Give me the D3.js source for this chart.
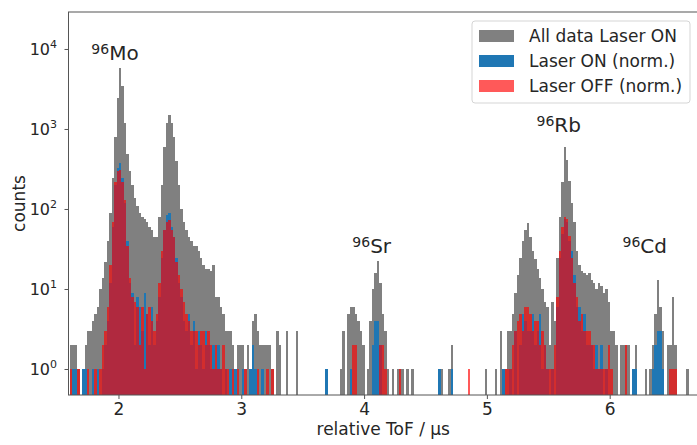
<!DOCTYPE html>
<html>
<head>
<meta charset="utf-8">
<title>ToF spectrum</title>
<script src="https://d3js.org/d3.v7.min.js"></script>
<style>
body { margin: 0; background: #fff; }
text { font-family: "DejaVu Sans", sans-serif; fill: #262626; }
</style>
</head>
<body>
<div id="chart"></div>
<script>
// histogram bins (relative ToF in us)
var binStart = 1.60;
var binWidth = 0.02;

// counts per bin
var allOn = [
  2,2,2,1,0,1,2,3,3,4,5,6,10,14,22,40,
  90,250,800,2500,5900,3500,1200,500,300,200,140,110,90,80,75,70,
  60,55,45,45,80,200,600,1200,1500,1200,800,400,200,100,70,55,
  45,40,35,35,30,25,20,18,18,17,20,8,8,6,5,3,
  3,3,2,1,2,2,2,1,2,1,4,5,3,2,2,2,
  2,2,1,0,3,2,0,0,3,0,0,0,3,0,0,0,
  0,0,0,0,0,0,0,0,1,0,0,0,0,0,1,3,
  0,5,6,6,5,4,3,2,0,1,4,10,16,23,12,5,
  3,1,0,1,0,1,1,1,0,1,0,1,0,0,0,0,
  0,0,0,0,0,0,1,1,0,0,1,2,0,0,0,0,
  0,0,0,0,0,0,0,0,0,1,0,0,0,1,0,3,
  1,1,3,3,5,9,15,25,40,55,68,45,30,24,18,14,
  10,7,6,2,7,4,25,80,220,600,420,230,120,70,30,20,
  17,16,15,16,13,12,10,12,11,9,10,7,3,3,2,0,
  2,2,2,2,0,1,2,0,0,0,1,0,1,2,5,13,
  6,3,0,2,2,8,2,0,0,0,0,1,0,0,0,0
];
var laserOn = [
  0,1,1,0,0,1,1,0,0,1,0,1,0,1,2,4,
  12,60,200,330,380,250,120,40,12,9,2,8,6,3,9,5,
  2,6,2,4,8,25,55,85,90,60,45,25,12,8,4,3,
  5,2,4,1,3,2,1,3,2,1,2,1,2,1,0,1,
  0,1,0,1,0,0,1,0,0,1,2,1,0,0,1,0,
  0,0,0,0,0,0,0,0,0,0,0,0,0,0,0,0,
  0,0,0,0,0,0,0,0,1,0,0,0,0,0,0,0,
  0,0,1,0,0,0,0,0,0,0,0,2,4,4,2,0,
  0,0,0,0,0,0,0,0,0,0,0,0,0,0,0,0,
  0,0,0,0,0,0,1,0,0,0,0,1,0,0,0,0,
  0,0,0,0,0,0,0,0,0,0,0,0,0,0,0,0,
  1,0,0,1,0,3,0,2,5,4,3,3,5,2,3,5,
  1,2,1,0,1,0,6,25,50,75,70,40,30,15,6,6,
  3,5,2,2,2,1,2,1,2,0,1,0,0,0,0,0,
  0,0,0,0,0,1,1,0,0,0,0,0,0,1,2,3,
  3,1,0,0,0,0,0,0,0,0,0,0,0,0,0,0
];
var laserOff = [
  1,0,0,1,0,0,0,1,0,0,1,0,1,2,3,6,
  20,70,220,300,310,220,130,35,14,8,7,6,2,6,1,5,
  6,4,3,5,12,30,55,70,73,55,45,22,15,10,7,5,
  4,3,3,3,2,3,3,2,3,2,1,2,1,1,2,1,
  1,0,1,0,1,0,0,1,0,0,0,0,1,0,0,0,
  1,0,1,0,0,0,0,0,0,0,0,0,0,0,0,0,
  0,0,0,0,0,0,0,0,0,0,0,0,0,0,0,0,
  0,0,0,2,2,0,0,0,0,0,0,0,0,0,2,2,
  1,0,0,0,0,0,1,0,0,0,0,0,0,0,0,0,
  0,0,0,0,0,0,0,0,0,0,0,0,0,0,0,0,
  0,0,1,0,0,0,0,0,0,0,0,0,0,0,0,0,
  0,1,1,1,2,3,4,5,3,6,6,5,3,4,4,2,
  3,2,1,1,1,2,8,30,60,80,75,47,25,12,8,4,
  5,3,3,3,2,2,1,1,1,1,1,2,1,0,0,0,
  0,0,2,0,0,0,0,0,0,0,0,0,0,0,0,0,
  0,0,0,0,1,1,1,0,0,0,0,0,0,0,0,0
];

var seriesNames = ["All data Laser ON", "Laser ON (norm.)", "Laser OFF (norm.)"];
var seriesColors = ["#808080", "#1f77b4", "#ff0000"];
var seriesOpacity = [1, 1, 0.65];

var xTicks = [2, 3, 4, 5, 6];
var yTicks = [1, 10, 100, 1000, 10000];

// isotope annotations in data coordinates
var isoMass = ["96", "96", "96", "96"];
var isoName = ["Mo", "Sr", "Rb", "Cd"];
var isoT = [1.775, 3.9, 5.4, 6.1];
var isoCount = [7400, 28.6, 930, 28.6];

var width = 697, height = 445;
var margin = {left: 68.5, top: 12, right: 698, bottom: 395};

var svg = d3.select("#chart").append("svg")
  .attr("width", width).attr("height", height);

var x = d3.scaleLinear().domain([1.589, 6.715]).range([margin.left, margin.right]);
var y = d3.scaleLog().domain([0.48, 29400]).range([margin.bottom, margin.top]);

svg.append("clipPath").attr("id", "plotclip").append("rect")
  .attr("x", margin.left).attr("y", margin.top)
  .attr("width", margin.right - margin.left).attr("height", margin.bottom - margin.top);

var plot = svg.append("g").attr("clip-path", "url(#plotclip)");

[allOn, laserOn, laserOff].forEach(function(counts, i) {
  var bins = counts.map(function(c, k) { return {k: k, c: c}; })
    .filter(function(d) { return d.c > 0; });
  plot.append("g")
    .attr("fill", seriesColors[i])
    .attr("fill-opacity", seriesOpacity[i])
    .attr("shape-rendering", "crispEdges")
    .selectAll("rect").data(bins).enter().append("rect")
    .attr("x", function(d) { return x(binStart + d.k * binWidth); })
    .attr("width", function(d) { return x(binStart + (d.k + 1) * binWidth) - x(binStart + d.k * binWidth); })
    .attr("y", function(d) { return y(d.c); })
    .attr("height", function(d) { return margin.bottom - y(d.c); });
});

// spines
svg.append("rect")
  .attr("x", margin.left).attr("y", margin.top)
  .attr("width", margin.right - margin.left).attr("height", margin.bottom - margin.top)
  .attr("fill", "none").attr("stroke", "#555").attr("stroke-width", 1);

// x axis
var xAxis = svg.append("g");
xTicks.forEach(function(t) {
  xAxis.append("line").attr("x1", x(t)).attr("x2", x(t))
    .attr("y1", margin.bottom).attr("y2", margin.bottom + 4).attr("stroke", "#555");
  xAxis.append("text").attr("x", x(t)).attr("y", 415)
    .attr("text-anchor", "middle").attr("font-size", 17).text(t);
});
svg.append("text").attr("x", (margin.left + margin.right) / 2).attr("y", 435)
  .attr("text-anchor", "middle").attr("font-size", 17).text("relative ToF / \u00b5s");

// y axis
var yAxis = svg.append("g");
yTicks.forEach(function(v) {
  var yy = y(v);
  yAxis.append("line").attr("x1", margin.left - 4).attr("x2", margin.left)
    .attr("y1", yy).attr("y2", yy).attr("stroke", "#555");
  var t = yAxis.append("text").attr("x", 57).attr("y", yy + 6)
    .attr("text-anchor", "end").attr("font-size", 16);
  t.append("tspan").text("10");
  t.append("tspan").attr("dy", -7).attr("font-size", 11).text(Math.round(Math.log10(v)));
});
svg.append("text").attr("transform", "translate(25," + ((margin.top + margin.bottom) / 2) + ") rotate(-90)")
  .attr("text-anchor", "middle").attr("font-size", 17).text("counts");

// isotope labels
isoName.forEach(function(n, i) {
  var t = svg.append("text").attr("x", x(isoT[i])).attr("y", y(isoCount[i])).attr("font-size", 20);
  t.append("tspan").attr("font-size", 14).attr("dy", -6).text(isoMass[i]);
  t.append("tspan").attr("dy", 6).text(n);
});

// legend
var lg = svg.append("g");
lg.append("rect").attr("x", 472).attr("y", 21).attr("width", 218).attr("height", 82)
  .attr("rx", 3).attr("fill", "#fff").attr("fill-opacity", 0.85)
  .attr("stroke", "#d5d5d5");
seriesNames.forEach(function(n, i) {
  var cy = 36 + i * 25;
  lg.append("rect").attr("x", 479).attr("y", cy - 6).attr("width", 35).attr("height", 12)
    .attr("fill", seriesColors[i]).attr("fill-opacity", seriesOpacity[i]);
  lg.append("text").attr("x", 529).attr("y", cy + 6).attr("font-size", 17).text(n);
});
</script>
</body>
</html>
